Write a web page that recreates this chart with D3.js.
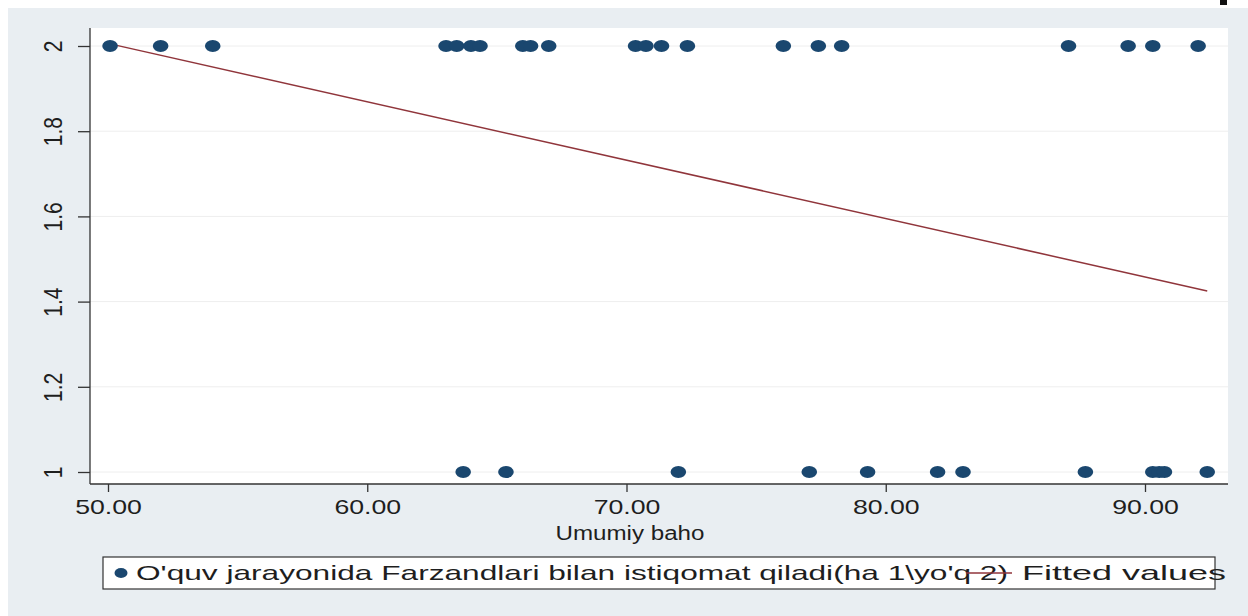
<!DOCTYPE html>
<html>
<head>
<meta charset="utf-8">
<script src="https://cdn.jsdelivr.net/npm/d3@7"></script>
<style>
  html, body { margin: 0; padding: 0; background: #ffffff; }
  svg { display: block; }
  text { font-family: "Liberation Sans", Arial, sans-serif; fill: #1e1e1e; }
</style>
</head>
<body>
<svg id="chart" width="1248" height="616"></svg>
<script>
// ---- data ----
const scoreGroup2 = [50.08, 52.03, 54.04, 63.04, 63.45, 64.0, 64.35, 66.0, 66.3, 67.0,
                     70.35, 70.75, 71.35, 72.35, 76.05, 77.4, 78.3, 87.05, 89.35, 90.3, 92.05];
const scoreGroup1 = [63.7, 65.35, 72.0, 77.05, 79.3, 82.0, 82.98, 87.7, 90.3, 90.55, 90.75, 92.4];
const fittedX = [50.08, 92.4];
const fittedY = [2.005, 1.425];
const xTicks = [50, 60, 70, 80, 90];
const yTicks = [1, 1.2, 1.4, 1.6, 1.8, 2];
const xTitle = "Umumiy baho";
const legendLabels = ["O'quv jarayonida Farzandlari bilan istiqomat qiladi(ha 1\\yo'q 2)", "Fitted values"];

// ---- layout ----
const SX = 1.27;          // horizontal stretch of the original picture
const FS = 21;
const plot = { left: 90, right: 1228, top: 28, bottom: 484 };
const markerColor = "#1a476f";
const fitColor = "#90353b";

const svg = d3.select("#chart");
svg.append("rect").attr("x", 8).attr("y", 8).attr("width", 1240).attr("height", 608).attr("fill", "#e9eef2");
svg.append("rect").attr("x", 1220).attr("y", 0).attr("width", 7).attr("height", 5).attr("fill", "#111");
svg.append("rect").attr("x", plot.left).attr("y", plot.top)
   .attr("width", plot.right - plot.left).attr("height", plot.bottom - plot.top).attr("fill", "#ffffff");

const x = d3.scaleLinear().domain([50, 90]).range([108, 1145]);
const y = d3.scaleLinear().domain([1, 2]).range([472, 46]);

// gridlines
svg.append("g").selectAll("line").data(yTicks).join("line")
  .attr("x1", plot.left).attr("x2", plot.right)
  .attr("y1", d => y(d)).attr("y2", d => y(d))
  .attr("stroke", "#eeeeee").attr("stroke-width", 1);

// y axis
const yAxis = svg.append("g").attr("transform", `translate(${plot.left},0)`)
  .call(d3.axisLeft(y).tickValues(yTicks).tickSize(12).tickFormat(d3.format("~g")));
yAxis.select(".domain").attr("d", `M0,${plot.top}V${plot.bottom}`).attr("stroke", "#333").attr("stroke-width", 1.3);
yAxis.selectAll(".tick line").attr("stroke", "#333").attr("stroke-width", 1.3);
yAxis.selectAll(".tick text")
  .attr("x", null).attr("dy", null)
  .attr("transform", `translate(-28,0) scale(${SX},1) rotate(-90)`)
  .attr("text-anchor", "middle")
  .style("font-size", FS + "px").style("fill", "#1e1e1e");

// x axis
const xAxis = svg.append("g").attr("transform", `translate(0,${plot.bottom})`)
  .call(d3.axisBottom(x).tickValues(xTicks).tickSize(8).tickFormat(d3.format(".2f")));
xAxis.select(".domain").attr("d", `M${plot.left},0H${plot.right}`).attr("stroke", "#333").attr("stroke-width", 1.3);
xAxis.selectAll(".tick line").attr("stroke", "#333").attr("stroke-width", 1.3);
xAxis.selectAll(".tick text")
  .attr("y", null).attr("dy", null)
  .attr("transform", `translate(0,30) scale(${SX},1)`)
  .attr("text-anchor", "middle")
  .style("font-size", FS + "px").style("fill", "#1e1e1e");

svg.append("text").attr("transform", `translate(630,540) scale(1.15,1)`)
  .attr("text-anchor", "middle").style("font-size", FS + "px").text(xTitle);

// fitted line
svg.append("path")
  .datum(fittedX.map((v, i) => [v, fittedY[i]]))
  .attr("d", d3.line().x(d => x(d[0])).y(d => y(d[1])))
  .attr("fill", "none").attr("stroke", fitColor).attr("stroke-width", 1.5);

// points
const pts = scoreGroup2.map(v => [v, 2]).concat(scoreGroup1.map(v => [v, 1]));
svg.append("g").selectAll("ellipse").data(pts).join("ellipse")
  .attr("cx", d => x(d[0])).attr("cy", d => y(d[1]))
  .attr("rx", 6 * 1.3).attr("ry", 6)
  .attr("fill", markerColor);

// legend
const lg = svg.append("g");
lg.append("rect").attr("x", 103).attr("y", 557).attr("width", 1112).attr("height", 32)
  .attr("fill", "#ffffff").attr("stroke", "#333").attr("stroke-width", 1.2);
lg.append("ellipse").attr("cx", 121).attr("cy", 573).attr("rx", 5 * 1.3).attr("ry", 5).attr("fill", markerColor);
lg.append("text").attr("x", 136).attr("y", 580)
  .attr("textLength", 872).attr("lengthAdjust", "spacingAndGlyphs")
  .style("font-size", FS + "px").text(legendLabels[0]);
lg.append("line").attr("x1", 966).attr("x2", 1012).attr("y1", 573).attr("y2", 573)
  .attr("stroke", fitColor).attr("stroke-width", 1.5);
lg.append("text").attr("x", 1022).attr("y", 580)
  .attr("textLength", 204).attr("lengthAdjust", "spacingAndGlyphs")
  .style("font-size", FS + "px").text(legendLabels[1]);
</script>
</body>
</html>
